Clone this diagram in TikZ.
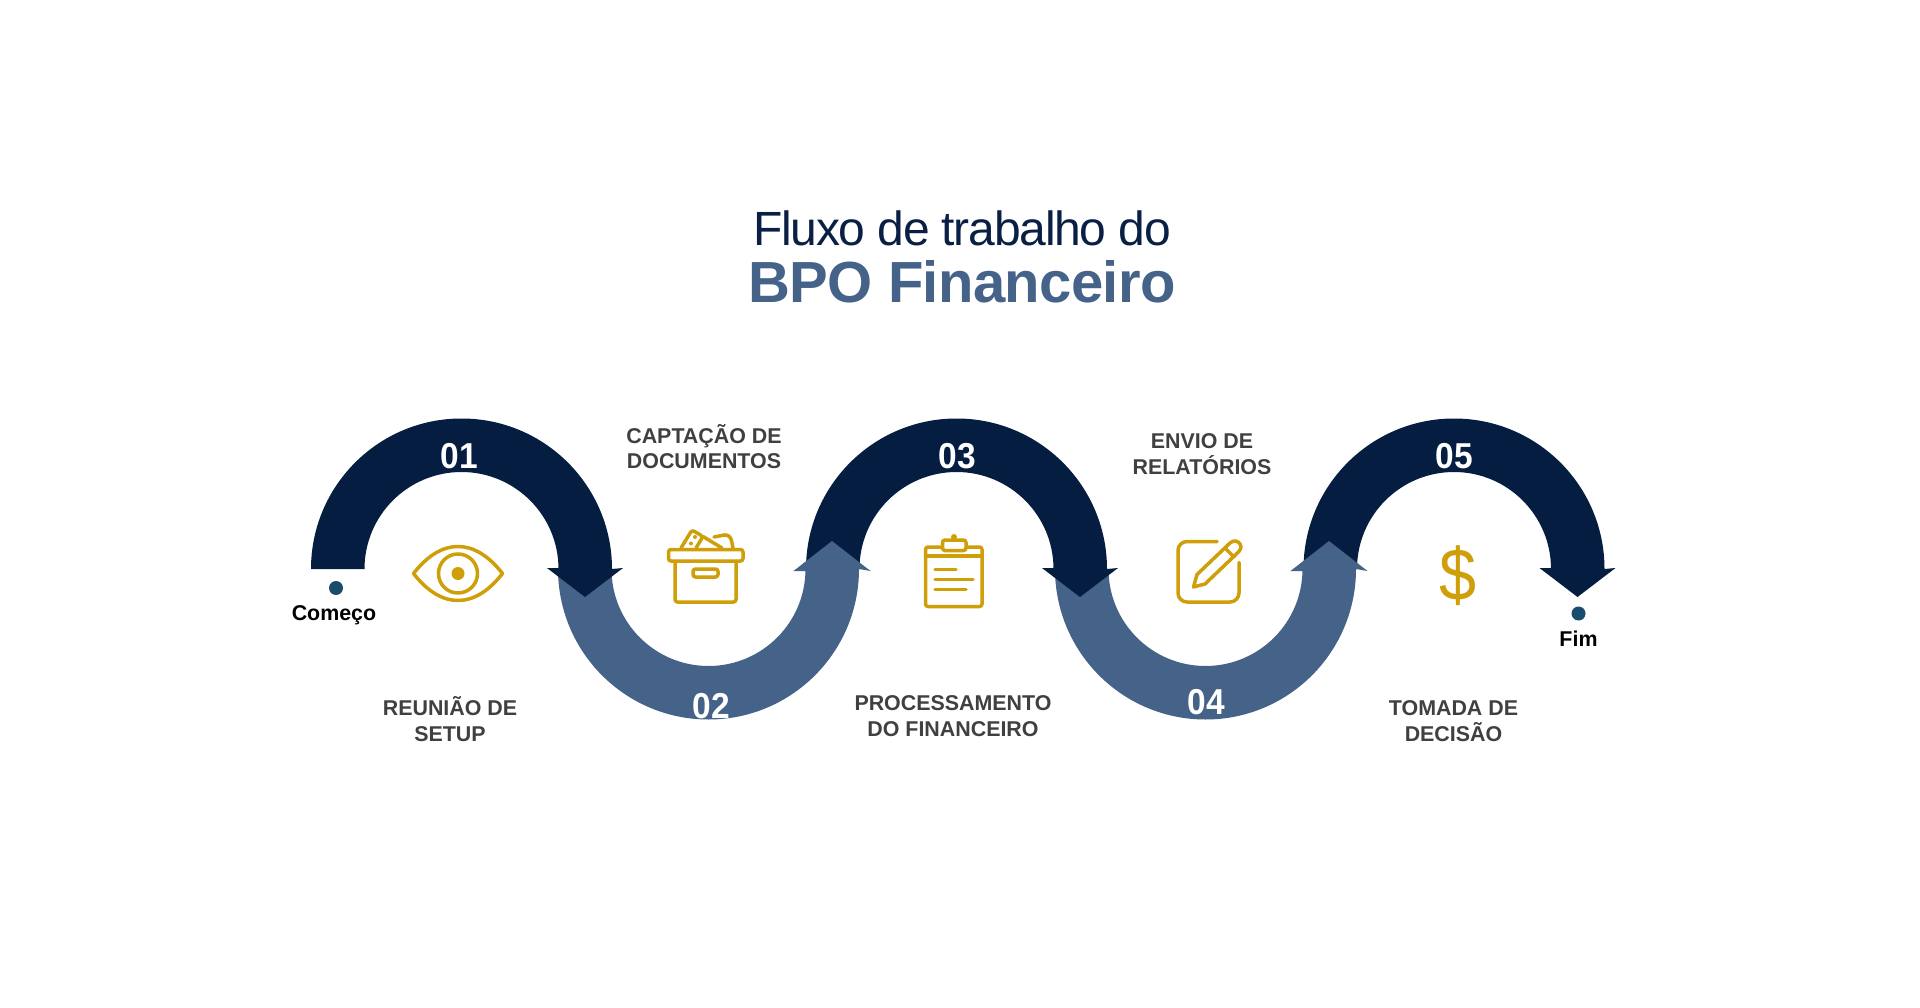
\documentclass[tikz,border=0pt]{standalone}
\usepackage{fontspec}
\usepackage{graphicx}
\setmainfont{Liberation Sans}
\definecolor{navy}{HTML}{051D40}
\definecolor{steel}{HTML}{456289}
\definecolor{gold}{HTML}{CF9F0A}
\definecolor{dotc}{HTML}{1A4C6E}
\definecolor{labelc}{HTML}{404040}
\definecolor{titlec}{HTML}{0A1F44}
\tikzset{
  num/.style={anchor=base,text=white,font=\bfseries\fontsize{36}{36}\selectfont,inner sep=0pt},
  steplabel/.style={anchor=base,text=labelc,font=\bfseries\fontsize{21.4}{21.4}\selectfont,inner sep=0pt},
  endlabel/.style={anchor=base,text=black,font=\bfseries\fontsize{21.4}{21.4}\selectfont,inner sep=0pt},
  endpt/.style={circle,fill=dotc,minimum size=14pt,inner sep=0pt},
  icon/.style={draw=gold,line width=3.5pt,line join=round,line cap=round},
  iconr/.style={icon,rounded corners=2.5pt},
}
\newcommand{\narrow}[1]{\scalebox{.93}[1]{#1}}
\newcommand{\crest}[2]{% #1 colour, #2 centre x
  \fill[#1] (#2-150.5,569) arc[start angle=180,end angle=360,radius=150.5]
    -- (#2+161.5,568) -- (#2+123.5,597) -- (#2+85.5,568) -- (#2+97,568) -- (#2+97,569)
    arc[start angle=360,end angle=180,radius=97] -- cycle;}
\newcommand{\valley}[2]{% #1 colour, #2 centre x
  \fill[#1] (#2-150.5,569) arc[start angle=180,end angle=0,radius=150.5]
    -- (#2+162,571) -- (#2+123.5,541) -- (#2+85,571) -- (#2+97,571) -- (#2+97,569)
    arc[start angle=0,end angle=180,radius=97] -- cycle;}
\begin{document}
\begin{tikzpicture}[x=1pt,y=1pt,yscale=-1]
\useasboundingbox (0,0) rectangle (1920,1008);
\fill[white] (0,0) rectangle (1920,1008);

% title
\node[anchor=base,inner sep=0pt,text=titlec,font=\fontsize{48}{48}\selectfont\addfontfeature{LetterSpace=-2.6}] (title1) at (962,246) {Fluxo de trabalho do};
\node[anchor=base,inner sep=0pt,text=steel,font=\bfseries\fontsize{58}{58}\selectfont\addfontfeature{LetterSpace=-1.1}] (title2) at (962,303) {BPO Financeiro};

% ribbon (later pieces overlap earlier ones)
\crest{navy}{1454}
\valley{steel}{1205.5}
\crest{navy}{956.5}
\valley{steel}{708.5}
\crest{navy}{461.5}

% numbers
\node[num] (n1) at (459,468) {\narrow{01}};
\node[num] (n2) at (711,718) {\narrow{02}};
\node[num] (n3) at (957,468) {\narrow{03}};
\node[num] (n4) at (1206,714) {\narrow{04}};
\node[num] (n5) at (1454,468) {\narrow{05}};

% start / end
\node[endpt] (start) at (336,588) {};
\node[endlabel] (startl) at (334,620) {Começo};
\node[endpt] (finish) at (1578.5,613.5) {};
\node[endlabel] (finishl) at (1578.5,646) {Fim};

% labels
\node[steplabel] (l1a) at (450,715) {REUNIÃO DE};
\node[steplabel] (l1b) at (450,741) {SETUP};
\node[steplabel] (l2a) at (704,443) {CAPTAÇÃO DE};
\node[steplabel] (l2b) at (704,468.5) {DOCUMENTOS};
\node[steplabel] (l3a) at (953,710.5) {PROCESSAMENTO};
\node[steplabel] (l3b) at (953,736.5) {DO FINANCEIRO};
\node[steplabel] (l4a) at (1202,448.5) {ENVIO DE};
\node[steplabel] (l4b) at (1202,474.5) {RELATÓRIOS};
\node[steplabel] (l5a) at (1453.5,715) {TOMADA DE};
\node[steplabel] (l5b) at (1453.5,741) {DECISÃO};

% eye
\draw[icon] (413.5,573.5) .. controls (428,555) and (443,546.5) .. (458,546.5)
  .. controls (473,546.5) and (488,555) .. (502.5,573.5)
  .. controls (488,592) and (473,600.5) .. (458,600.5)
  .. controls (443,600.5) and (428,592) .. (413.5,573.5) -- cycle;
\draw[icon] (458,573.5) circle[radius=19.5];
\fill[gold] (458,573.5) circle[radius=6.5];

% box
\draw[iconr] (668.5,549.5) rectangle (743,561);
\draw[iconr] (675,561) -- (675,602) -- (736,602) -- (736,561);
\draw[iconr] (693,569) rectangle (718,577);
\draw[iconr] (681,548) -- (692,530) -- (703,536.5) -- (696,548);
\draw[icon] (703,536.5) -- (722,548);
\draw[iconr] (714,537) -- (727,534.5) -- (731,538) -- (733,548);
\fill[gold] (695,537) circle[radius=2] (691,543.5) circle[radius=2];

% clipboard
\draw[iconr] (925.5,547) rectangle (982,606.5);
\draw[icon] (925.5,556) -- (982,556);
\draw[iconr,fill=white] (942.5,540) rectangle (966,550.5);
\fill[gold] (954,537) circle[radius=3];
\draw[icon] (935,569.5) -- (956,569.5);
\draw[icon] (935,579.5) -- (973,579.5);
\draw[icon] (935,589.5) -- (966,589.5);

% edit
\draw[icon] (1217,541.5) -- (1187,541.5) arc[start angle=270,end angle=180,radius=9]
  -- (1178,593) arc[start angle=180,end angle=90,radius=9]
  -- (1230,602) arc[start angle=90,end angle=0,radius=9] -- (1239,562.5);
\draw[icon] (1193.5,587) -- (1197,574.5) -- (1230,543) .. controls (1234,539.5) and (1238,541) .. (1240,544)
  .. controls (1241.5,547) and (1241,549.5) .. (1239,551.5) -- (1205,584) -- cycle;
\draw[icon] (1225,548) -- (1234,557);

% dollar
\node[anchor=base,inner sep=0pt,text=gold,font=\fontsize{74}{74}\selectfont] (dollar) at (1458,600) {\scalebox{.9}[1]{\$}};
\end{tikzpicture}
\end{document}
